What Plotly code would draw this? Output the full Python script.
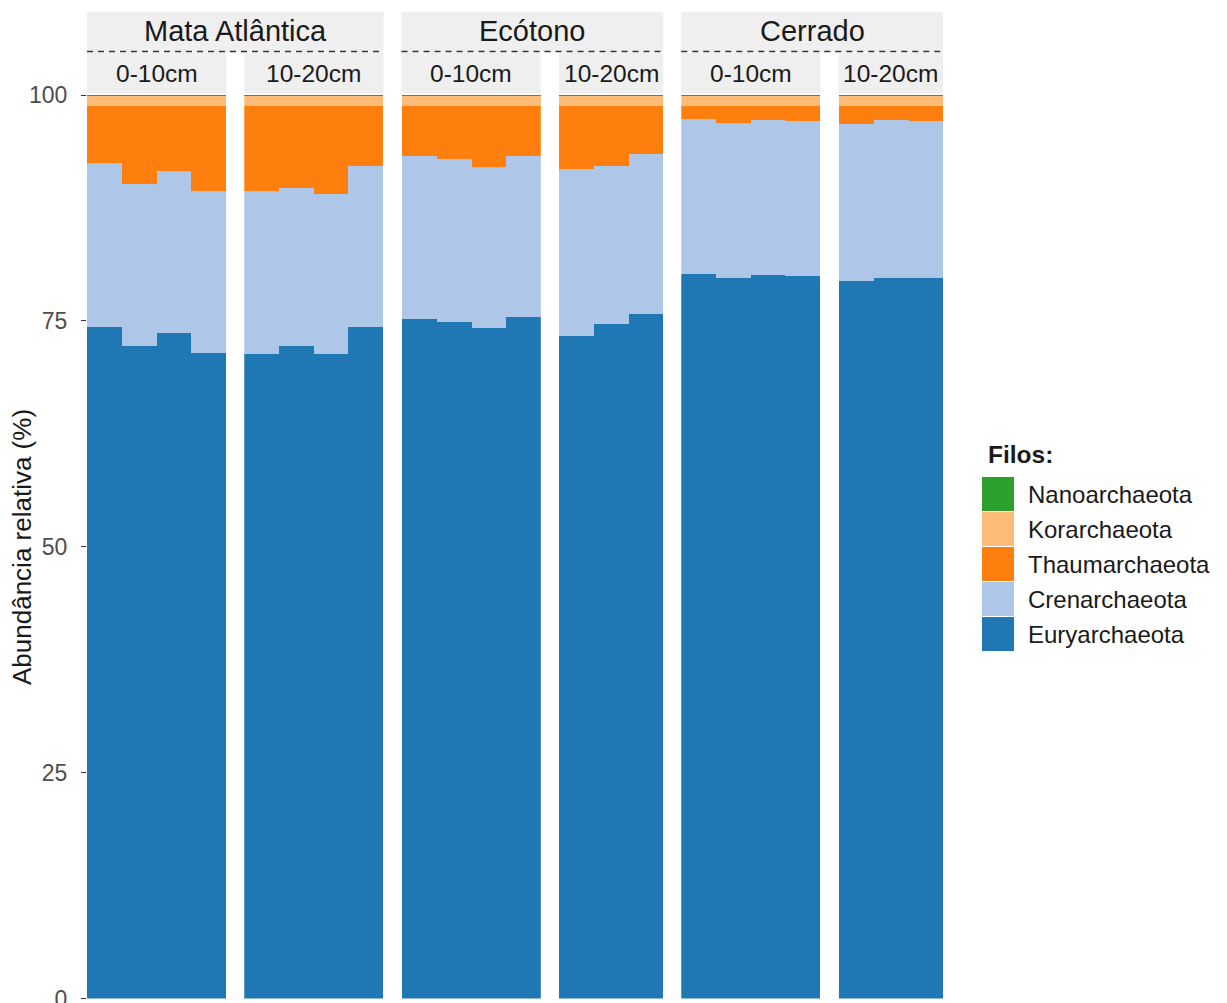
import plotly.graph_objects as go

# ---- data: relative abundance (%) of archaeal phyla per sample ----
biomes = ["Mata Atlântica", "Ecótono", "Cerrado"]
depths = ["0-10cm", "10-20cm"]
panel_biome = ["Mata Atlântica", "Mata Atlântica", "Ecótono", "Ecótono", "Cerrado", "Cerrado"]
panel_depth = ["0-10cm", "10-20cm", "0-10cm", "10-20cm", "0-10cm", "10-20cm"]

euryarchaeota = [
    [74.3, 72.2, 73.7, 71.5],
    [71.3, 72.2, 71.3, 74.3],
    [75.2, 74.9, 74.2, 75.4],
    [73.3, 74.6, 75.8],
    [80.2, 79.8, 80.1, 80.0],
    [79.4, 79.8, 79.7],
]
crenarchaeota = [
    [18.2, 18.0, 17.9, 17.9],
    [18.1, 17.5, 17.7, 17.8],
    [18.0, 18.0, 17.8, 17.8],
    [18.5, 17.5, 17.7],
    [17.1, 17.1, 17.1, 17.1],
    [17.4, 17.4, 17.4],
]
thaumarchaeota = [
    [6.3, 8.6, 7.2, 9.4],
    [9.4, 9.1, 9.8, 6.7],
    [5.6, 5.9, 6.8, 5.6],
    [7.0, 6.7, 5.3],
    [1.5, 1.9, 1.6, 1.7],
    [2.0, 1.6, 1.7],
]
korarchaeota = [
    [1.15, 1.15, 1.15, 1.15],
    [1.15, 1.15, 1.15, 1.15],
    [1.15, 1.15, 1.15, 1.15],
    [1.15, 1.15, 1.15],
    [1.15, 1.15, 1.15, 1.15],
    [1.15, 1.15, 1.15],
]
nanoarchaeota = [
    [0.05, 0.05, 0.05, 0.05],
    [0.05, 0.05, 0.05, 0.05],
    [0.05, 0.05, 0.05, 0.05],
    [0.05, 0.05, 0.05],
    [0.05, 0.05, 0.05, 0.05],
    [0.05, 0.05, 0.05],
]

# stacking order bottom -> top
phyla = ["Euryarchaeota", "Crenarchaeota", "Thaumarchaeota", "Korarchaeota", "Nanoarchaeota"]
phylum_values = [euryarchaeota, crenarchaeota, thaumarchaeota, korarchaeota, nanoarchaeota]
phylum_colors = ["#1f77b4", "#aec7e8", "#ff7f0e", "#ffbb78", "#2ca02c"]
y_ticks = [0, 25, 50, 75, 100]

# ---- geometry (pixels of a 1227 x 1003 canvas) ----
W, H = 1227, 1003
FONT = "Liberation Sans, Arimo, Arial, sans-serif"
LEFT, RIGHT, GAP = 87.0, 943.0, 18.0
Y_TOP, Y_BOT = 95.0, 998.5


def fx(px):
    return px / W


def fy(py):
    return 1 - py / H


counts = [len(v) for v in euryarchaeota]
bar_w = (RIGHT - LEFT - GAP * (len(counts) - 1)) / sum(counts)
panel_px = []
cur = LEFT
for n in counts:
    panel_px.append((cur, cur + n * bar_w))
    cur += n * bar_w + GAP

fig = go.Figure()
layout = {}
for p, n in enumerate(counts):
    axname = "x" if p == 0 else f"x{p + 1}"
    keyname = "xaxis" if p == 0 else f"xaxis{p + 1}"
    for name, vals, col in zip(phyla, phylum_values, phylum_colors):
        fig.add_trace(go.Bar(
            x=list(range(n)), y=vals[p], name=name,
            marker=dict(color=col, line=dict(width=0)),
            xaxis=axname, yaxis="y", width=1.0, showlegend=False,
            hovertemplate=f"{name}: %{{y:.2f}}%<extra></extra>",
        ))
    layout[keyname] = dict(
        domain=[fx(panel_px[p][0]), fx(panel_px[p][1])],
        range=[-0.5, n - 0.5], showticklabels=False, ticks="",
        showgrid=False, zeroline=False, showline=False, anchor="y",
        automargin=False,
    )

layout["yaxis"] = dict(
    domain=[fy(Y_BOT), fy(Y_TOP)], range=[0, 100], anchor="x",
    tickvals=y_ticks, ticktext=[str(t) for t in y_ticks],
    ticks="outside", ticklen=5, tickwidth=1, tickcolor="#333333",
    ticklabelstandoff=9, ticklabeloverflow="allow",
    tickfont=dict(family=FONT, size=23, color="#4d4d4d"),
    showgrid=False, zeroline=False, showline=False, automargin=False,
)

shapes = []
annotations = []

# strips: biome on top (spanning both depths), depth underneath
for b in biomes:
    idx = [i for i, pb in enumerate(panel_biome) if pb == b]
    x0, x1 = panel_px[idx[0]][0], panel_px[idx[-1]][1]
    shapes.append(dict(type="rect", xref="paper", yref="paper",
                       x0=fx(x0), x1=fx(x1), y0=fy(52), y1=fy(12),
                       fillcolor="#efefef", line=dict(width=0), layer="below"))
    shapes.append(dict(type="line", xref="paper", yref="paper",
                       x0=fx(x0), x1=fx(x1), y0=fy(51.5), y1=fy(51.5),
                       line=dict(color="#333333", width=1.5, dash="6px,5px")))
    annotations.append(dict(text=b, xref="paper", yref="paper",
                            x=fx((x0 + x1) / 2), y=fy(31), showarrow=False,
                            xanchor="center", yanchor="middle",
                            font=dict(family=FONT, size=29, color="#1a1a1a")))
for p in range(len(counts)):
    x0, x1 = panel_px[p]
    shapes.append(dict(type="rect", xref="paper", yref="paper",
                       x0=fx(x0), x1=fx(x1), y0=fy(93), y1=fy(53),
                       fillcolor="#efefef", line=dict(width=0), layer="below"))
    annotations.append(dict(text=panel_depth[p], xref="paper", yref="paper",
                            x=fx((x0 + x1) / 2), y=fy(74), showarrow=False,
                            xanchor="center", yanchor="middle",
                            font=dict(family=FONT, size=24.5, color="#1a1a1a")))

# y-axis title
annotations.append(dict(text="Abundância relativa (%)", xref="paper", yref="paper",
                        x=fx(22), y=fy(547), showarrow=False, textangle=-90,
                        xanchor="center", yanchor="middle",
                        font=dict(family=FONT, size=26, color="#1a1a1a")))

# legend: title + keys, top entry first
annotations.append(dict(text="<b>Filos:</b>", xref="paper", yref="paper",
                        x=fx(986), y=fy(454), showarrow=False,
                        xanchor="left", yanchor="middle",
                        font=dict(family=FONT, size=24.5, color="#1a1a1a")))
KEY_TOP, KEY_H = 477.0, 35.0
for i, (name, col) in enumerate(zip(phyla[::-1], phylum_colors[::-1])):
    t = KEY_TOP + i * KEY_H
    shapes.append(dict(type="rect", xref="paper", yref="paper",
                       x0=fx(982), x1=fx(1014), y0=fy(t + KEY_H - 1), y1=fy(t),
                       fillcolor=col, line=dict(width=0)))
    annotations.append(dict(text=name, xref="paper", yref="paper",
                            x=fx(1026), y=fy(t + KEY_H / 2), showarrow=False,
                            xanchor="left", yanchor="middle",
                            font=dict(family=FONT, size=24, color="#1a1a1a")))

fig.update_layout(
    width=W, height=H,
    margin=dict(l=0, r=0, t=0, b=0, autoexpand=False),
    paper_bgcolor="white", plot_bgcolor="white",
    barmode="stack", bargap=0,
    shapes=shapes, annotations=annotations,
    **layout,
)

fig.write_html("out.html")
